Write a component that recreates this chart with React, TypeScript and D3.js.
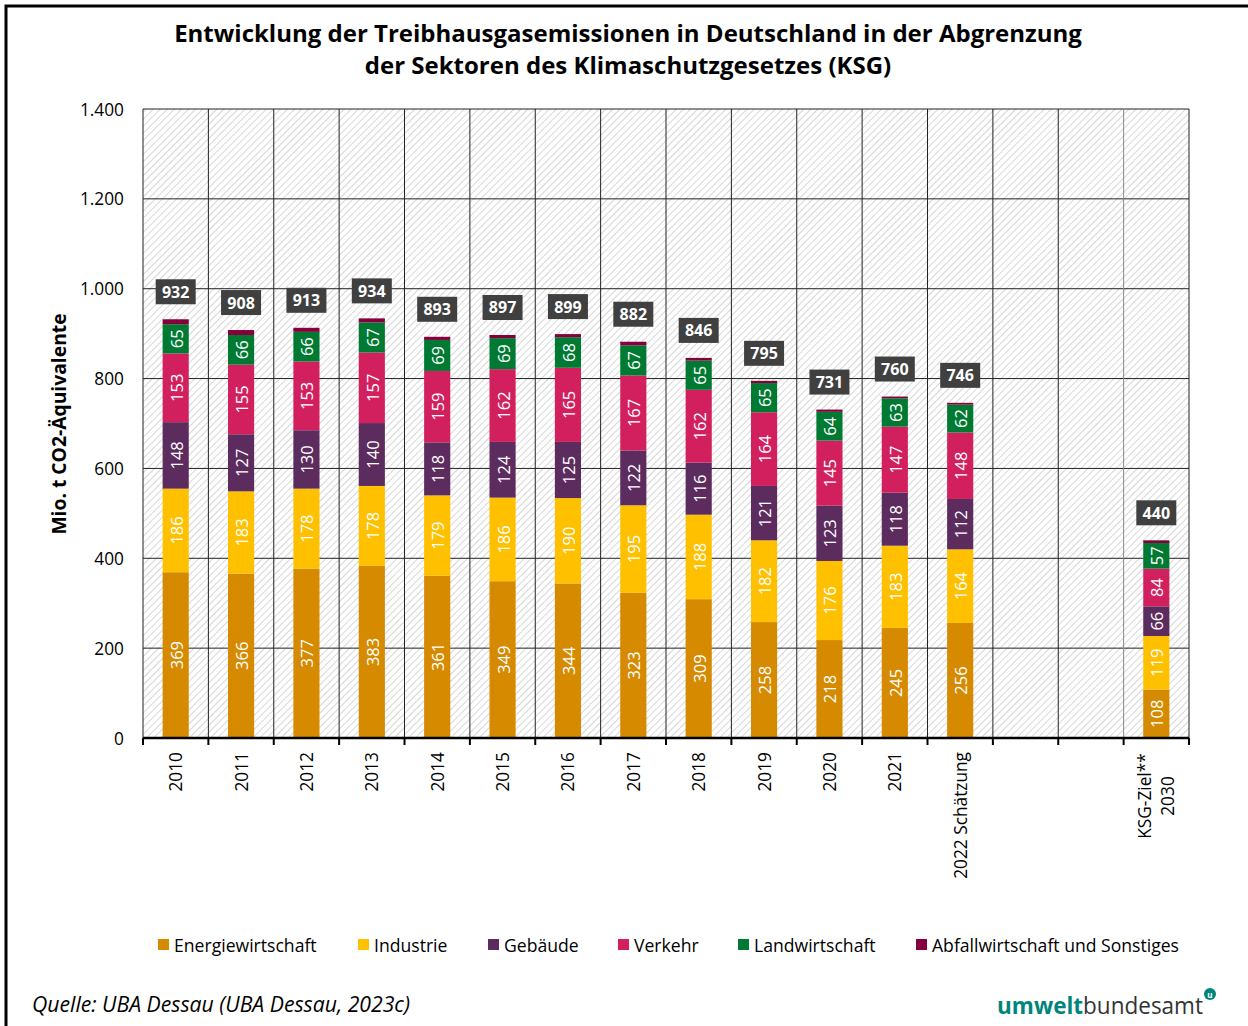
import * as d3 from 'd3'

const categories = [
  '2010', '2011', '2012', '2013', '2014', '2015', '2016', '2017', '2018', '2019',
  '2020', '2021', '2022 Schätzung', '', '', 'KSG-Ziel**\n2030',
]

// null = leere Spalte
const energie = [369, 366, 377, 383, 361, 349, 344, 323, 309, 258, 218, 245, 256, null, null, 108]
const industrie = [186, 183, 178, 178, 179, 186, 190, 195, 188, 182, 176, 183, 164, null, null, 119]
const gebaeude = [148, 127, 130, 140, 118, 124, 125, 122, 116, 121, 123, 118, 112, null, null, 66]
const verkehr = [153, 155, 153, 157, 159, 162, 165, 167, 162, 164, 145, 147, 148, null, null, 84]
const landwirtschaft = [65, 66, 66, 67, 69, 69, 68, 67, 65, 65, 64, 63, 62, null, null, 57]
const abfall = [11, 11, 9, 9, 7, 7, 7, 8, 6, 5, 5, 4, 4, null, null, 6]
const totals = [932, 908, 913, 934, 893, 897, 899, 882, 846, 795, 731, 760, 746, null, null, 440]

const seriesNames = ['Energiewirtschaft', 'Industrie', 'Gebäude', 'Verkehr', 'Landwirtschaft', 'Abfallwirtschaft und Sonstiges']
const seriesColors = ['#d68a00', '#ffc000', '#5d2c5f', '#d2205f', '#007a33', '#85003c']
const yTicks = [0, 200, 400, 600, 800, 1000, 1200, 1400]

const W = 1248
const H = 1026
const plot = { left: 143, right: 1189, top: 109, bottom: 738 }
const FONT = "'Open Sans', 'Noto Sans', sans-serif"

const fmt = d3.formatLocale({ decimal: ',', thousands: '.', grouping: [3], currency: ['', '€'] }).format(',')

export default function App() {
  const seriesData = [energie, industrie, gebaeude, verkehr, landwirtschaft, abfall]
  const rows = categories.map((c, i) => {
    const r: Record<string, number> = { idx: i }
    seriesNames.forEach((s, k) => { r[s] = seriesData[k][i] ?? 0 })
    return r
  })
  const stacked = d3.stack<Record<string, number>>().keys(seriesNames)(rows)

  const x = d3.scaleBand<number>()
    .domain(d3.range(categories.length))
    .range([plot.left, plot.right])
    .paddingInner(0.6)
    .paddingOuter(0.3)
  const step = x.step()
  const y = d3.scaleLinear().domain([0, 1400]).range([plot.bottom, plot.top])

  const boundaries = d3.range(categories.length + 1).map(i => plot.left + i * step)

  return (
    <svg width={W} height={H} style={{ position: 'absolute', left: 0, top: 0, background: '#fff' }} fontFamily={FONT}>
      <defs>
        <pattern id="hatch" patternUnits="userSpaceOnUse" width="5" height="5" patternTransform="rotate(45)">
          <rect width="5" height="5" fill="#fff" />
          <line x1="0" y1="0" x2="0" y2="5" stroke="#d2d2d2" strokeWidth="1.8" />
        </pattern>
      </defs>
      <rect x={6} y={6} width={W + 10} height={H + 10} fill="none" stroke="#000" strokeWidth={3} />

      <text x={628} y={42} textAnchor="middle" fontSize={24} fontWeight="bold" fill="#000">
        Entwicklung der Treibhausgasemissionen in Deutschland in der Abgrenzung
      </text>
      <text x={628} y={74} textAnchor="middle" fontSize={24} fontWeight="bold" fill="#000">
        der Sektoren des Klimaschutzgesetzes (KSG)
      </text>

      {/* Plotfläche */}
      <rect x={plot.left} y={plot.top} width={plot.right - plot.left} height={plot.bottom - plot.top} fill="url(#hatch)" />
      {yTicks.filter(t => t > 0).map(t => (
        <line key={t} x1={plot.left} x2={plot.right} y1={y(t)} y2={y(t)} stroke="#222" strokeWidth={1} />
      ))}
      {boundaries.map((bx, i) => (
        <line key={i} x1={bx} x2={bx} y1={plot.top} y2={plot.bottom}
          stroke={i === 15 ? '#888' : '#222'} strokeWidth={1} />
      ))}

      {/* Balken */}
      {stacked.map((layer, k) => (
        <g key={layer.key}>
          {layer.map((d, i) => {
            const v = seriesData[k][i]
            if (v == null) return null
            const bx = x(i)!
            const y0 = y(d[0])
            const y1 = y(d[1])
            const cx = bx + x.bandwidth() / 2
            const cy = (y0 + y1) / 2
            return (
              <g key={i}>
                <rect x={bx} y={y1} width={x.bandwidth()} height={y0 - y1} fill={seriesColors[k]} />
                {k < 5 && (
                  <text transform={`translate(${cx + 0.5},${cy}) rotate(-90)`} textAnchor="middle"
                    dominantBaseline="central" fontSize={16.5} fill="#fff">{v}</text>
                )}
              </g>
            )
          })}
        </g>
      ))}

      {/* Summen */}
      {totals.map((t, i) => {
        if (t == null) return null
        const cx = x(i)! + x.bandwidth() / 2
        const top = y(t)
        return (
          <g key={i}>
            <rect x={cx - 20} y={top - 40} width={40} height={25} fill="#404040" />
            <text x={cx} y={top - 27.5} textAnchor="middle" dominantBaseline="central" fontSize={16}
              fontWeight="bold" fill="#fff">{t}</text>
          </g>
        )
      })}

      {/* x-Achse */}
      <line x1={plot.left} x2={plot.right} y1={plot.bottom} y2={plot.bottom} stroke="#000" strokeWidth={2.5} />
      {boundaries.map((bx, i) => (
        <line key={i} x1={bx} x2={bx} y1={plot.bottom} y2={plot.bottom + 7} stroke="#000" strokeWidth={2} />
      ))}
      {categories.map((c, i) => {
        if (!c) return null
        const cx = x(i)! + x.bandwidth() / 2
        const lines = c.split('\n')
        if (lines.length === 1) {
          return (
            <text key={i} transform={`translate(${cx},${plot.bottom + 14}) rotate(-90)`} textAnchor="end"
              dominantBaseline="central" fontSize={17.3} fill="#000">{c}</text>
          )
        }
        return (
          <g key={i} transform={`translate(${cx},${plot.bottom + 58}) rotate(-90)`}>
            {lines.map((l, j) => (
              <text key={j} x={0} y={(j - (lines.length - 1) / 2) * 23} textAnchor="middle"
                dominantBaseline="central" fontSize={17.3} fill="#000">{l}</text>
            ))}
          </g>
        )
      })}

      {/* y-Achse */}
      {yTicks.map(t => (
        <text key={t} x={124} y={y(t)} textAnchor="end" dominantBaseline="central" fontSize={17.3} fill="#000">
          {fmt(t)}
        </text>
      ))}
      <text transform={`translate(58,${424}) rotate(-90)`} textAnchor="middle" dominantBaseline="central"
        fontSize={19.3} fontWeight="bold" fill="#000">Mio. t CO2-Äquivalente</text>

      {/* Legende */}
      {seriesNames.map((s, k) => {
        const lx = [158, 358, 488, 618, 738, 916][k]
        return (
          <g key={s}>
            <rect x={lx} y={939} width={11} height={11} fill={seriesColors[k]} />
            <text x={lx + 16} y={944.5} dominantBaseline="central" fontSize={17.6} fill="#000">{s}</text>
          </g>
        )
      })}

      {/* Fußzeile */}
      <text x={32} y={1012} fontSize={21.2} fontStyle="italic" fill="#000">Quelle: UBA Dessau (UBA Dessau, 2023c)</text>
      <text x={997} y={1014} fontSize={23} fill="#333" textLength={206} lengthAdjust="spacingAndGlyphs">
        <tspan fontWeight="bold" fill="#00857c">umwelt</tspan>
        <tspan>bundesamt</tspan>
      </text>
      <circle cx={1210} cy={994} r={6} fill="#00857c" />
      <text x={1210} y={994} textAnchor="middle" dominantBaseline="central" fontSize={8} fontWeight="bold" fill="#fff">u</text>
    </svg>
  )
}
